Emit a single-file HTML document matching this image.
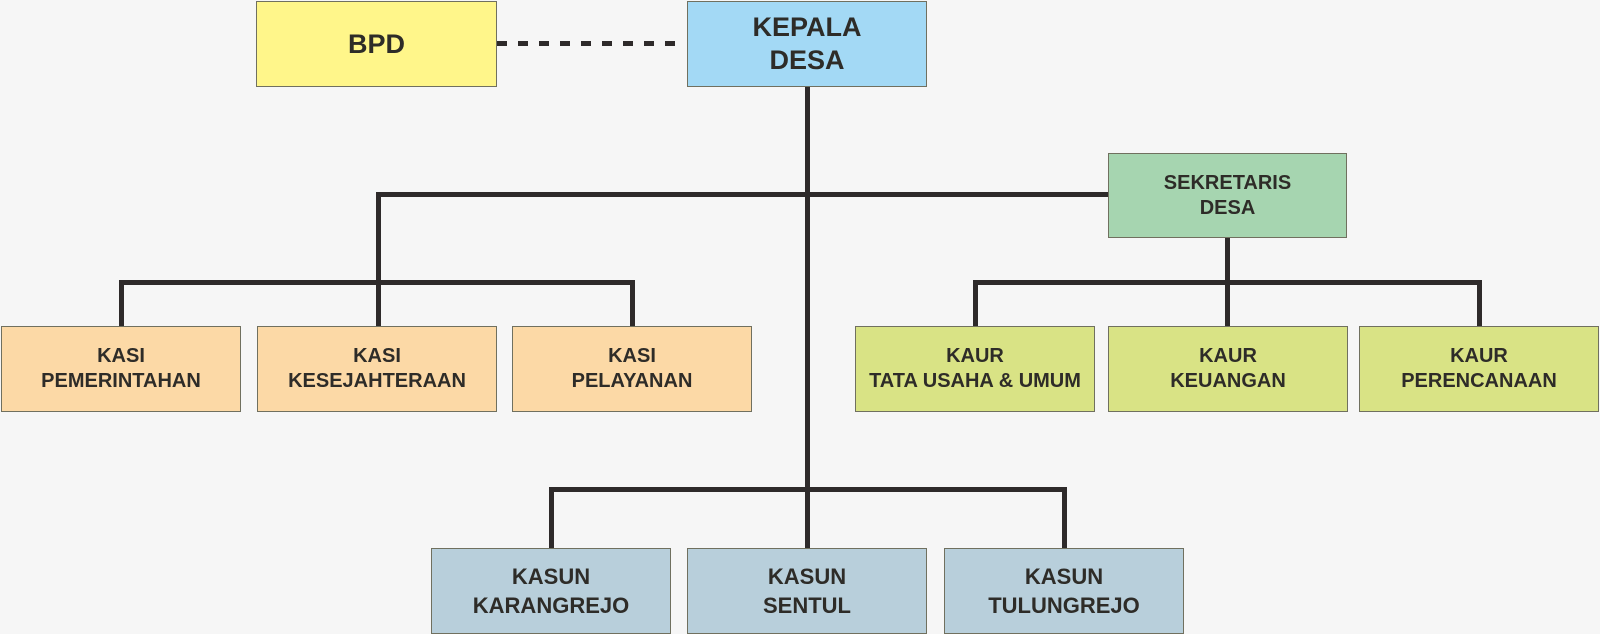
<!DOCTYPE html>
<html><head><style>
body{margin:0;width:1600px;height:634px;background:#f6f6f6;position:relative;overflow:hidden;font-family:"Liberation Sans",Arial,sans-serif;}
.b{position:absolute;box-sizing:border-box;border:1.5px solid #70705f;display:flex;align-items:center;justify-content:center;text-align:center;font-weight:bold;color:#2e2c28;font-size:20px;line-height:25px;}
.l{position:absolute;background:#2e2a2a;}
.o{background:#fcd9a6}.g{background:#d9e385}.s{background:#b8cfdb}
</style></head><body>
<div class="l" style="left:805px;top:86px;width:5px;height:464px"></div>
<div class="l" style="left:376px;top:192px;width:732px;height:5px"></div>
<div class="l" style="left:376px;top:192px;width:5px;height:136px"></div>
<div class="l" style="left:119px;top:280px;width:516px;height:5px"></div>
<div class="l" style="left:119px;top:280px;width:5px;height:48px"></div>
<div class="l" style="left:630px;top:280px;width:5px;height:48px"></div>
<div class="l" style="left:1225px;top:236px;width:5px;height:92px"></div>
<div class="l" style="left:973px;top:280px;width:509px;height:5px"></div>
<div class="l" style="left:973px;top:280px;width:5px;height:48px"></div>
<div class="l" style="left:1477px;top:280px;width:5px;height:48px"></div>
<div class="l" style="left:549px;top:487px;width:518px;height:5px"></div>
<div class="l" style="left:549px;top:487px;width:5px;height:62px"></div>
<div class="l" style="left:1062px;top:487px;width:5px;height:62px"></div>
<svg style="position:absolute;left:0;top:0" width="1600" height="634"><line x1="497" y1="43.5" x2="684" y2="43.5" stroke="#2e2a2a" stroke-width="5" stroke-dasharray="10 11"/></svg>
<div class="b" style="left:256px;top:1px;width:241px;height:86px;background:#fff68a;font-size:27px">BPD</div>
<div class="b" style="left:687px;top:1px;width:240px;height:86px;background:#a3d9f5;font-size:27px;line-height:33px">KEPALA<br>DESA</div>
<div class="b" style="left:1108px;top:153px;width:239px;height:85px;background:#a6d5b0">SEKRETARIS<br>DESA</div>
<div class="b o" style="left:1px;top:326px;width:240px;height:86px">KASI<br>PEMERINTAHAN</div>
<div class="b o" style="left:257px;top:326px;width:240px;height:86px">KASI<br>KESEJAHTERAAN</div>
<div class="b o" style="left:512px;top:326px;width:240px;height:86px">KASI<br>PELAYANAN</div>
<div class="b g" style="left:855px;top:326px;width:240px;height:86px">KAUR<br>TATA USAHA &amp; UMUM</div>
<div class="b g" style="left:1108px;top:326px;width:240px;height:86px">KAUR<br>KEUANGAN</div>
<div class="b g" style="left:1359px;top:326px;width:240px;height:86px">KAUR<br>PERENCANAAN</div>
<div class="b s" style="left:431px;top:548px;width:240px;height:86px;font-size:22px;line-height:29px">KASUN<br>KARANGREJO</div>
<div class="b s" style="left:687px;top:548px;width:240px;height:86px;font-size:22px;line-height:29px">KASUN<br>SENTUL</div>
<div class="b s" style="left:944px;top:548px;width:240px;height:86px;font-size:22px;line-height:29px">KASUN<br>TULUNGREJO</div>
</body></html>
